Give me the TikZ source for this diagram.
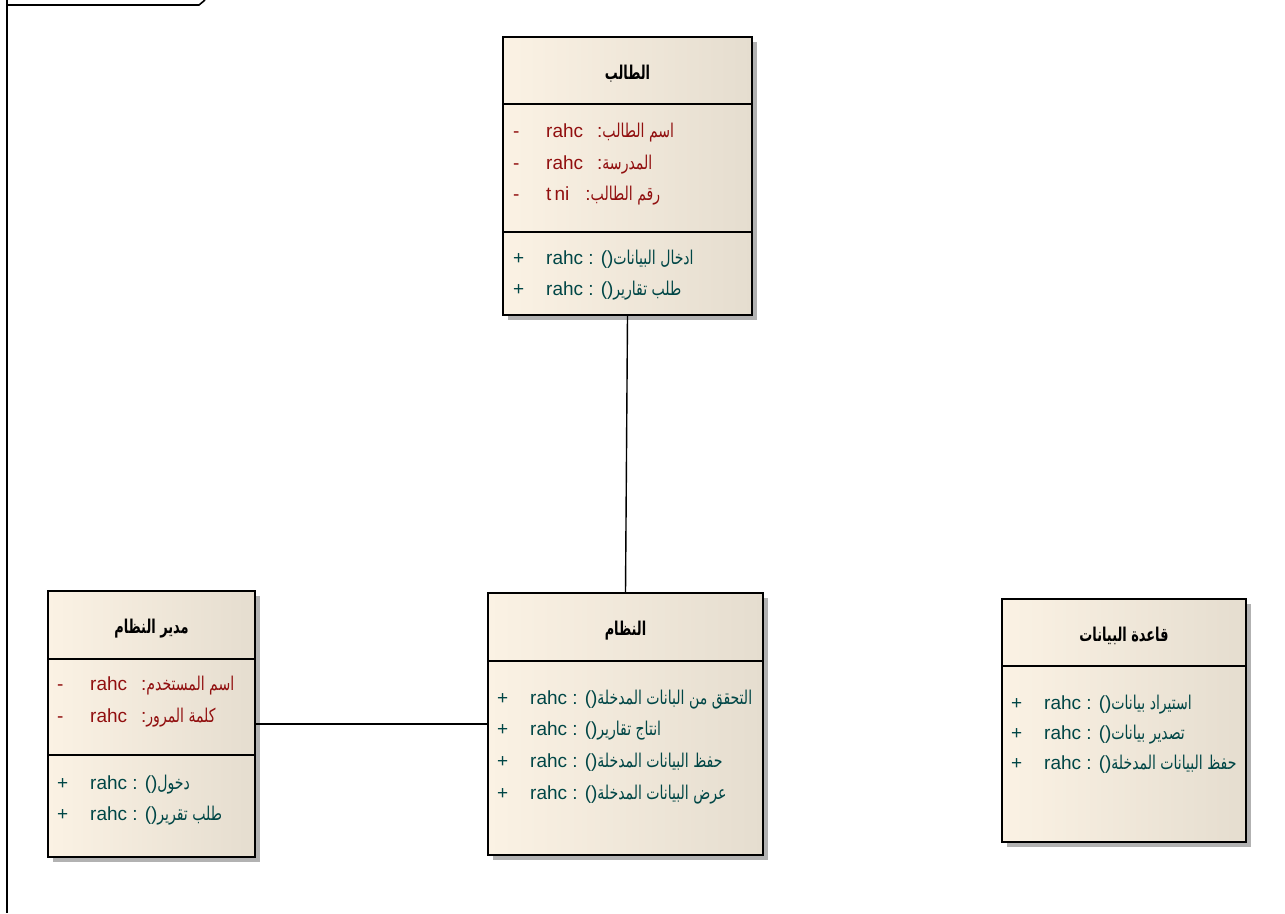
\documentclass[tikz,border=0pt]{standalone}
\usepackage{fontspec}
\setmainfont{Liberation Sans}
\newfontfamily\arabicfont[Script=Arabic, FakeStretch=0.74]{DejaVu Sans}
\newfontfamily\arabictitle[Script=Arabic, FakeStretch=0.68]{DejaVu Sans}
\TeXXeTstate=1
\usetikzlibrary{shadows}
\definecolor{attrred}{RGB}{145,15,15}
\definecolor{opteal}{RGB}{0,70,70}
\definecolor{boxlight}{RGB}{251,242,228}
\definecolor{boxdark}{RGB}{229,221,207}
\newcommand{\ar}[1]{{\arabicfont\fontsize{19}{22}\selectfont\beginR #1\endR}}

\begin{document}
\begin{tikzpicture}[x=1pt,y=-1pt]
    \tikzstyle{classbox}=[rectangle, draw, line width=1.6pt, inner sep=0pt, left color=boxlight, right color=boxdark, drop shadow={shadow xshift=5pt, shadow yshift=-5pt, fill=black!30, opacity=1}]
    \tikzstyle{title}=[inner sep=0pt, font=\arabictitle\bfseries\fontsize{19}{22}\selectfont]
    \tikzstyle{attr}=[anchor=base west, inner sep=0pt, text=attrred, font=\fontsize{19}{23}\selectfont]
    \tikzstyle{oper}=[anchor=base west, inner sep=0pt, text=opteal, font=\fontsize{19}{23}\selectfont]
    \tikzstyle{link}=[line width=1.4pt]
    \useasboundingbox (0,0) rectangle (1285,913);
    % frame
    \draw[line width=1.6pt] (7,0) -- (7,913);
    \draw[line width=1.6pt] (7,5) -- (199,5) -- (205,0);
    % classes
    \node[classbox, minimum width=249pt, minimum height=278pt] (st) at (627.5,176) {};
    \node[classbox, minimum width=207pt, minimum height=266pt] (adm) at (151.5,724) {};
    \node[classbox, minimum width=275pt, minimum height=262pt] (sys) at (625.5,724) {};
    \node[classbox, minimum width=244pt, minimum height=243pt] (db) at (1124,720.5) {};
    \draw[line width=1.6pt] (st.west |- 0,104) -- (st.east |- 0,104);
    \draw[line width=1.6pt] (st.west |- 0,232) -- (st.east |- 0,232);
    \draw[line width=1.6pt] (adm.west |- 0,659) -- (adm.east |- 0,659);
    \draw[line width=1.6pt] (adm.west |- 0,755) -- (adm.east |- 0,755);
    \draw[line width=1.6pt] (sys.west |- 0,661) -- (sys.east |- 0,661);
    \draw[line width=1.6pt] (db.west |- 0,666) -- (db.east |- 0,666);
    % titles
    \node[title] (st-t) at (627.5,74) {\beginR الطالب\endR};
    \node[title] (adm-t) at (151.5,629) {\beginR مدير النظام\endR};
    \node[title] (sys-t) at (625.5,631) {\beginR النظام\endR};
    \node[title] (db-t) at (1124,636) {\beginR قاعدة البيانات\endR};
    % student
    \node[attr] (st-a1) at (513,137.5) {\makebox[33pt][l]{-}rahc\hspace{14pt}:\ar{اسم الطالب}};
    \node[attr] (st-a2) at (513,169) {\makebox[33pt][l]{-}rahc\hspace{14pt}:\ar{المدرسة}};
    \node[attr] (st-a3) at (513,200.5) {\makebox[33pt][l]{-}t\,ni\hspace{16pt}:\ar{رقم الطالب}};
    \node[oper] (st-o1) at (513,264) {\makebox[33pt][l]{+}rahc : ()\ar{ادخال البيانات}};
    \node[oper] (st-o2) at (513,295.5) {\makebox[33pt][l]{+}rahc : ()\ar{طلب تقارير}};
    % admin
    \node[attr] (adm-a1) at (57,690.5) {\makebox[33pt][l]{-}rahc\hspace{14pt}:\ar{اسم المستخدم}};
    \node[attr] (adm-a2) at (57,722.5) {\makebox[33pt][l]{-}rahc\hspace{14pt}:\ar{كلمة المرور}};
    \node[oper] (adm-o1) at (57,789) {\makebox[33pt][l]{+}rahc : ()\ar{دخول}};
    \node[oper] (adm-o2) at (57,820.5) {\makebox[33pt][l]{+}rahc : ()\ar{طلب تقرير}};
    % system
    \node[oper] (sys-o1) at (497,704) {\makebox[33pt][l]{+}rahc : ()\ar{التحقق من البانات المدخلة}};
    \node[oper] (sys-o2) at (497,735) {\makebox[33pt][l]{+}rahc : ()\ar{انتاج تقارير}};
    \node[oper] (sys-o3) at (497,767.5) {\makebox[33pt][l]{+}rahc : ()\ar{حفظ البيانات المدخلة}};
    \node[oper] (sys-o4) at (497,799) {\makebox[33pt][l]{+}rahc : ()\ar{عرض البيانات المدخلة}};
    % database
    \node[oper] (db-o1) at (1011,709) {\makebox[33pt][l]{+}rahc : ()\ar{استيراد بيانات}};
    \node[oper] (db-o2) at (1011,739) {\makebox[33pt][l]{+}rahc : ()\ar{تصدير بيانات}};
    \node[oper] (db-o3) at (1011,769) {\makebox[33pt][l]{+}rahc : ()\ar{حفظ البيانات المدخلة}};
    % links
    \draw[link] (st.south) -- (sys.north);
    \draw[link] (adm.east) -- (sys.west);
\end{tikzpicture}
\end{document}
